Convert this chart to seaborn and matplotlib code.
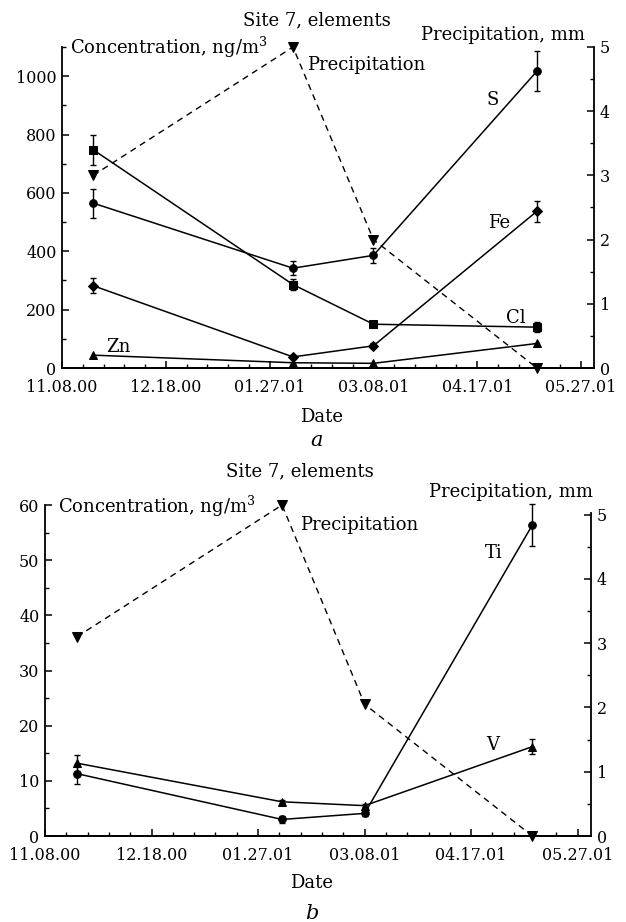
import matplotlib
matplotlib.use("Agg")
import matplotlib.pyplot as plt
from matplotlib.ticker import MultipleLocator, FixedLocator, FixedFormatter
import pandas as pd
import seaborn as sns

sns.set_theme(style="ticks")
plt.rcParams['font.family'] = ['DejaVu Serif']
plt.rcParams['mathtext.fontset'] = 'dejavuserif'
plt.rcParams['text.color'] = 'black'

# sampling dates and axis ticks
start_date = "2000-11-08"
sample_dates = ["2000-11-20", "2001-02-05", "2001-03-08", "2001-05-10"]
tick_labels = ["11.08.00", "12.18.00", "01.27.01", "03.08.01", "04.17.01", "05.27.01"]

# panel a, ng/m3
s_vals = [565, 342, 386, 1017]
s_err = [50, 25, 25, 68]
cl_vals = [748, 286, 150, 140]
cl_err = [52, 20, 8, 18]
fe_vals = [282, 38, 76, 537]
fe_err = [25, 8, 8, 35]
zn_vals = [44, 18, 16, 84]
precip_a = [3.0, 5.0, 2.0, 0.0]

# panel b, ng/m3
ti_vals = [11.3, 3.0, 4.1, 56.4]
ti_err = [1.8, 0.6, 0.4, 3.8]
v_vals = [13.2, 6.2, 5.5, 16.2]
v_err = [1.4, 0.3, 0.3, 1.4]
precip_b = [3.1, 5.15, 2.05, 0.0]

days = (pd.to_datetime(sample_dates) - pd.Timestamp(start_date)).days.to_numpy()
tick_days = [40 * i for i in range(len(tick_labels))]

W, H = 626, 922
fig = plt.figure(figsize=(W / 100, H / 100), dpi=100)


def box(l, t, r, b):
    return [l / W, 1 - b / H, (r - l) / W, (b - t) / H]


def ftext(x, y, s, **kw):
    kw.setdefault("fontsize", 13)
    fig.text(x / W, 1 - y / H, s, **kw)


def series(ax, y, marker, err=None, ms=5.5):
    sns.lineplot(x=days, y=y, marker=marker, color="black", linewidth=1.1,
                 markersize=ms, markeredgecolor="black", ax=ax, clip_on=False)
    if err is not None:
        ax.errorbar(days, y, yerr=err, fmt="none", ecolor="black",
                    elinewidth=1.0, capsize=2.5, capthick=1.0, clip_on=False)


def precip(ax, y):
    sns.lineplot(x=days, y=y, marker="v", color="black", linewidth=1.0,
                 linestyle=(0, (4.5, 3.5)), markersize=6.5,
                 markeredgecolor="black", ax=ax, clip_on=False)


def style_axes(ax, tw, ymax, ymaj, ymin, rmax, rbound):
    ax.set_xlim(0, 205)
    ax.set_ylim(0, ymax)
    tw.set_ylim(0, rmax)
    ax.xaxis.set_major_locator(FixedLocator(tick_days))
    ax.xaxis.set_major_formatter(FixedFormatter(tick_labels))
    ax.xaxis.set_minor_locator(MultipleLocator(8))
    ax.yaxis.set_major_locator(MultipleLocator(ymaj))
    ax.yaxis.set_minor_locator(MultipleLocator(ymin))
    tw.yaxis.set_major_locator(MultipleLocator(1))
    tw.yaxis.set_minor_locator(MultipleLocator(0.5))
    for a in (ax, tw):
        a.spines["top"].set_visible(False)
        for sp in a.spines.values():
            sp.set_linewidth(1.3)
            sp.set_color("black")
        a.tick_params(which="both", direction="in", color="black",
                      labelsize=11.5, labelcolor="black", pad=4)
        a.tick_params(which="major", length=5, width=1.1)
        a.tick_params(which="minor", length=3, width=1.0)
        a.set_xlabel("")
        a.set_ylabel("")
    ax.tick_params(axis="x", pad=8)
    ax.tick_params(axis="y", right=False)
    tw.tick_params(axis="y", left=False)
    tw.spines["left"].set_visible(False)
    ax.spines["right"].set_visible(False)
    tw.spines["right"].set_bounds(0, rbound)
    ax.set_facecolor("none")


# ---- panel a
ax1 = fig.add_axes(box(62, 47, 594, 368))
tw1 = ax1.twinx()
series(ax1, s_vals, "o", s_err)
series(ax1, cl_vals, "s", cl_err)
series(ax1, fe_vals, "D", fe_err, ms=5)
series(ax1, zn_vals, "^", ms=6)
precip(tw1, precip_a)
style_axes(ax1, tw1, 1100, 200, 100, 5, 5)

ftext(317, 20, "Site 7, elements", ha="center", va="center")
ftext(70, 47, "Concentration, ng/m$^3$", ha="left", va="center")
ftext(585, 35, "Precipitation, mm", ha="right", va="center")
ftext(307, 65, "Precipitation", ha="left", va="center")
ftext(493, 100, "S", ha="center", va="center")
ftext(499, 223, "Fe", ha="center", va="center")
ftext(516, 318, "Cl", ha="center", va="center")
ftext(118, 347, "Zn", ha="center", va="center")
ftext(322, 417, "Date", ha="center", va="center")
ftext(317, 440, "a", ha="center", va="center", style="italic", fontsize=15)

# ---- panel b
ax2 = fig.add_axes(box(45, 505, 591, 836))
tw2 = ax2.twinx()
series(ax2, ti_vals, "o", ti_err)
series(ax2, v_vals, "^", v_err, ms=6)
precip(tw2, precip_b)
style_axes(ax2, tw2, 60, 10, 5, 5.15, 5.03)

ftext(300, 471, "Site 7, elements", ha="center", va="center")
ftext(58, 506, "Concentration, ng/m$^3$", ha="left", va="center")
ftext(593, 492, "Precipitation, mm", ha="right", va="center")
ftext(300, 525, "Precipitation", ha="left", va="center")
ftext(494, 553, "Ti", ha="center", va="center")
ftext(493, 745, "V", ha="center", va="center")
ftext(312, 883, "Date", ha="center", va="center")
ftext(312, 913, "b", ha="center", va="center", style="italic", fontsize=15)

fig.savefig("out.png", dpi=100, facecolor="white")
